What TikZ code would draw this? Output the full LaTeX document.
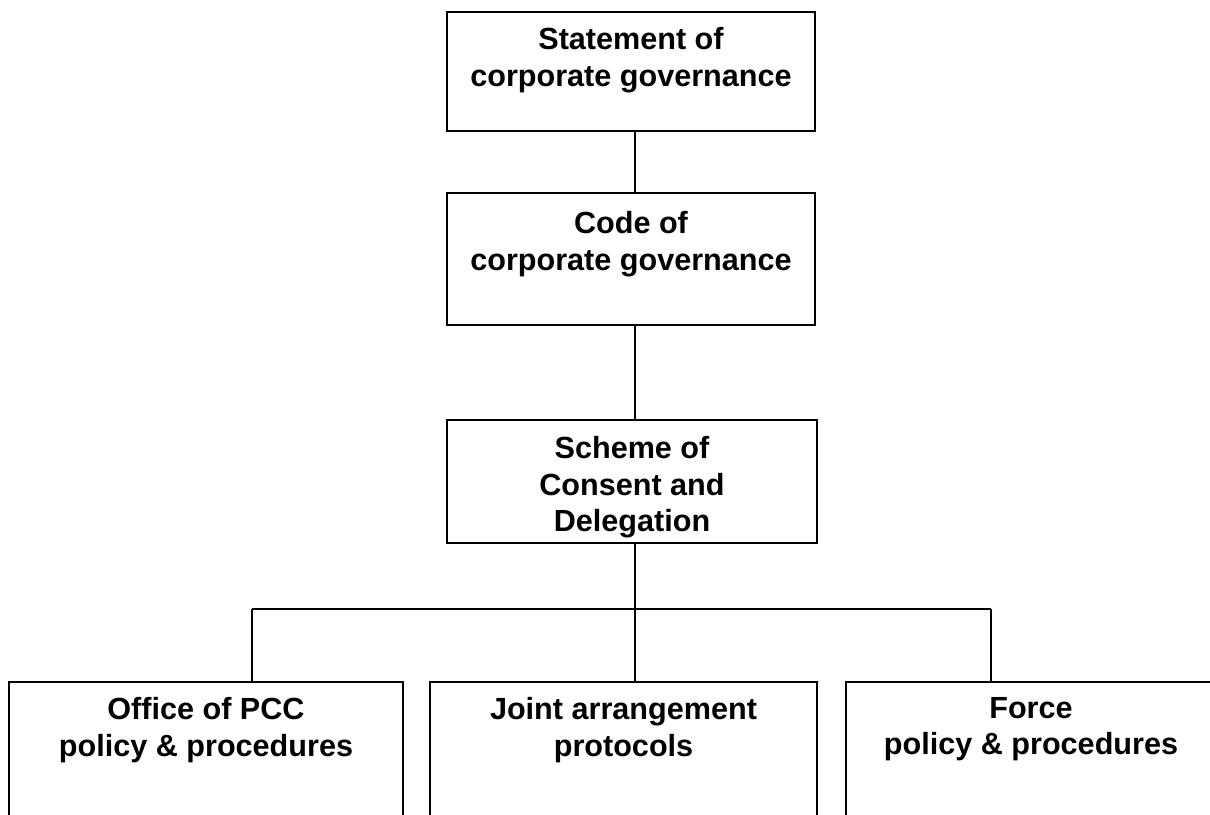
\documentclass[tikz,border=0pt]{standalone}
\usepackage{fontspec}
\setmainfont{Liberation Sans}
\usetikzlibrary{positioning}
\tikzset{
  box/.style={draw, line width=1.6pt, inner sep=0pt},
  txt/.style={align=center, inner sep=0pt, font=\bfseries\fontsize{30.6}{36.5}\selectfont},
  link/.style={line width=1.2pt}
}
\begin{document}
\begin{tikzpicture}[x=1pt,y=1pt]
\useasboundingbox (0,0) rectangle (1210,814);

\node[box, minimum width=368pt, minimum height=119pt] (b1) at (631,742.5) {};
\node[txt, below=16pt of b1.north] (t1) {Statement of\\corporate governance};
\node[box, minimum width=368pt, minimum height=132pt] (b2) at (631,555) {};
\node[txt, below=19pt of b2.north] (t2) {Code of\\corporate governance};
\node[box, minimum width=370pt, minimum height=123pt] (b3) at (632,332.5) {};
\node[txt, below=17pt of b3.north] (t3) {Scheme of\\Consent and\\Delegation};

\node[box, minimum width=394pt, minimum height=160pt] (p1) at (206,52) {};
\node[txt, below=16pt of p1.north] (q1) {Office of PCC\\policy \& procedures};
\node[box, minimum width=387pt, minimum height=160pt] (p2) at (623.5,52) {};
\node[txt, below=16pt of p2.north] (q2) {Joint arrangement\\protocols};
\node[box, minimum width=370pt, minimum height=160pt] (p3) at (1031,52) {};
\node[txt, below=16pt of p3.north] (q3) {Force\\policy \& procedures};

\coordinate (bus) at (635,205);
\coordinate (busl) at (252,205);
\coordinate (busr) at (991,205);

\draw[link] (b1.south -| bus) -- (b2.north -| bus);
\draw[link] (b2.south -| bus) -- (b3.north -| bus);
\draw[link] (b3.south -| bus) -- (p2.north -| bus);
\draw[link] (busl) -- (busr);
\foreach \c/\p in {busl/p1, busr/p3} \draw[link] (\c) -- (\c |- \p.north);
\end{tikzpicture}
\end{document}
